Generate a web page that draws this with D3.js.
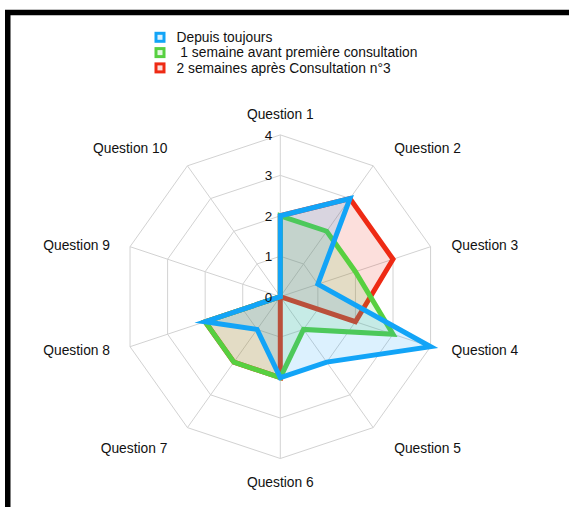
<!DOCTYPE html>
<html>
<head>
<meta charset="utf-8">
<script src="https://cdn.jsdelivr.net/npm/d3@7"></script>
<style>
  html, body { margin: 0; padding: 0; background: #fff; }
  svg { display: block; font-family: "Liberation Sans", Arial, Helvetica, sans-serif; }
</style>
</head>
<body>
<svg id="chart" width="569" height="507"></svg>
<script>
// Radar chart data
const questions = ["Question 1", "Question 2", "Question 3", "Question 4", "Question 5",
                   "Question 6", "Question 7", "Question 8", "Question 9", "Question 10"];
const seriesNames = ["Depuis toujours", " 1 semaine avant première consultation", "2 semaines après Consultation n°3"];
const depuisToujours = [2, 3, 1, 4, 2, 2, 1, 2, 0, 0];
const avantPremiere  = [2, 2, 2, 3, 1, 2, 2, 2, 0, 0];
const apresConsult3  = [2, 3, 3, 2, 0, 2, 2, 2, 0, 0];
const tickValues = [0, 1, 2, 3, 4];
const seriesColors = ["#12a4f7", "#57d040", "#ee2a14"];

const svg = d3.select("#chart");
const W = 569, H = 507;

// frame: thick black edge along top and left
svg.append("rect")
  .attr("x", 7.75).attr("y", 12.5)
  .attr("width", W + 20).attr("height", H + 20)
  .attr("fill", "none").attr("stroke", "#000").attr("stroke-width", 5.5);

const cx = 280.3, cy = 296.7;
const rx = 158, ky = 161.8 / 158;   // slight vertical stretch
const r = d3.scaleLinear().domain([0, 4]).range([0, rx]);
const n = questions.length;
const angle = i => i * 2 * Math.PI / n;
const pt = (i, v) => [cx + r(v) * Math.sin(angle(i)), cy - r(v) * Math.cos(angle(i)) * ky];

const g = svg.append("g");

// grid rings
const ringLine = d3.line();
tickValues.filter(t => t > 0).forEach(t => {
  g.append("path")
    .attr("d", ringLine(d3.range(n).map(i => pt(i, t))) + "Z")
    .attr("fill", "none").attr("stroke", "#d2d2d2").attr("stroke-width", 1);
});
// spokes
d3.range(n).forEach(i => {
  const [x, y] = pt(i, 4);
  g.append("line")
    .attr("x1", cx).attr("y1", cy).attr("x2", x).attr("y2", y)
    .attr("stroke", "#d2d2d2").attr("stroke-width", 1);
});

// series: drawn last-to-first so the first series ends on top
const allSeries = [depuisToujours, avantPremiere, apresConsult3];
for (let s = allSeries.length - 1; s >= 0; s--) {
  const pts = allSeries[s].map((v, i) => pt(i, v));
  g.append("path")
    .attr("d", d3.line()(pts) + "Z")
    .attr("fill", seriesColors[s]).attr("fill-opacity", 0.15)
    .attr("stroke", seriesColors[s]).attr("stroke-width", 5)
    .attr("stroke-linejoin", "miter").attr("stroke-miterlimit", 10);
}

// radial tick labels
tickValues.forEach(t => {
  const [x, y] = pt(0, t);
  g.append("text")
    .attr("x", x - 8).attr("y", y + 1.5)
    .attr("text-anchor", "end").attr("dominant-baseline", "middle")
    .attr("font-size", 13.5).attr("fill", "#111")
    .text(t);
});

// axis labels
questions.forEach((q, i) => {
  const [vx, vy] = pt(i, 4);
  const dx = Math.sin(angle(i)), dy = -Math.cos(angle(i));
  let ax = vx, anchor = "middle";
  if (dx > 0.01) { ax = vx + 21; anchor = "start"; }
  else if (dx < -0.01) { ax = vx - 20; anchor = "end"; }
  let ay;
  if (Math.abs(dy) > 0.99) ay = vy + 22.5 * dy + 2.5;
  else if (Math.abs(dy) > 0.5) ay = vy + 24 * dy + 2.5;
  else ay = vy + (dy < 0 ? 0 : 5);
  g.append("text")
    .attr("x", ax).attr("y", ay)
    .attr("text-anchor", anchor).attr("dominant-baseline", "middle")
    .attr("font-size", 13.8).attr("fill", "#111")
    .text(q);
});

// legend
const legend = svg.append("g");
seriesNames.forEach((name, s) => {
  const mid = 37.3 + s * 15.3;
  legend.append("rect")
    .attr("x", 156).attr("y", mid - 4)
    .attr("width", 8).attr("height", 8)
    .attr("fill", seriesColors[s]).attr("fill-opacity", 0.15)
    .attr("stroke", seriesColors[s]).attr("stroke-width", 3);
  legend.append("text")
    .attr("x", 176.5).attr("y", mid + 1)
    .attr("dominant-baseline", "middle")
    .attr("font-size", 13.8).attr("fill", "#111")
    .style("white-space", "pre")
    .text(name);
});
</script>
</body>
</html>
